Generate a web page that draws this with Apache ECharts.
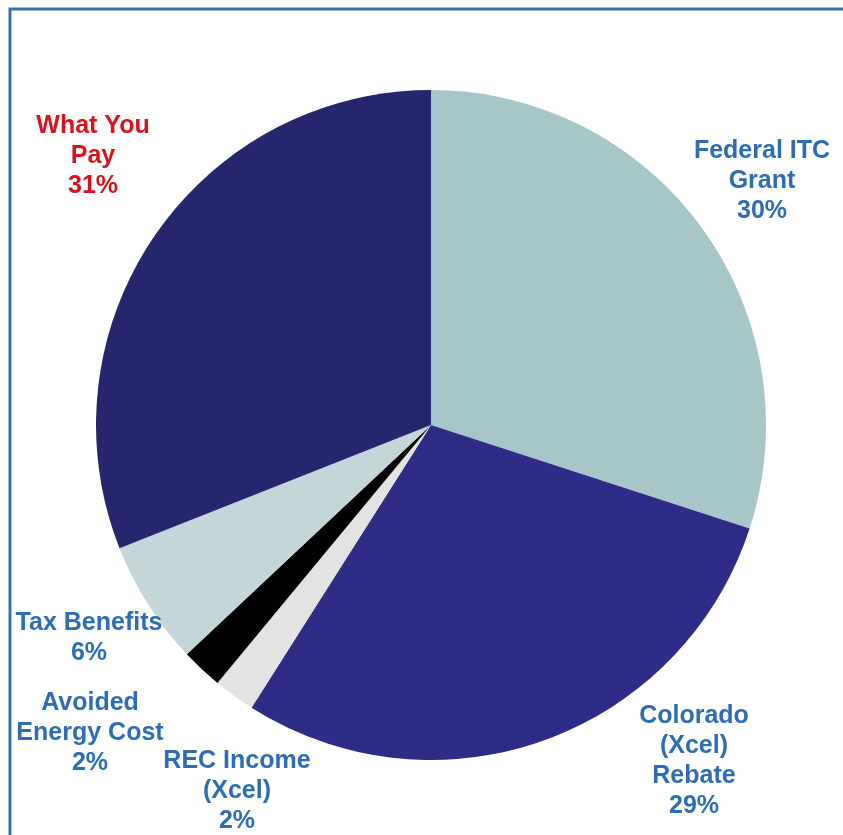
<!DOCTYPE html>
<html>
<head>
<meta charset="utf-8">
<script src="https://cdn.jsdelivr.net/npm/echarts@6/dist/echarts.min.js"></script>
<style>
html,body{margin:0;padding:0;background:#fff;}
#c{width:843px;height:835px;}
</style>
</head>
<body>
<div id="c"></div>
<script>
var categories = ['Federal ITC\nGrant', 'Colorado\n(Xcel)\nRebate', 'REC Income\n(Xcel)', 'Avoided\nEnergy Cost', 'Tax Benefits', 'What You\nPay'];
var values = [30, 29, 2, 2, 6, 31];
var colors = ['#A6C6C8', '#2E2C87', '#E3E3E3', '#000000', '#C4D6D8', '#26266F'];
var labelColors = ['#2E6DB4', '#2E6DB4', '#2E6DB4', '#2E6DB4', '#2E6DB4', '#D7141C'];
var labelPos = [[762, 136], [694, 701], [237, 746], [90, 688], [89, 608], [93, 111]];

var chart = echarts.init(document.getElementById('c'));
chart.setOption({
  animation: false,
  graphic: [{
    type: 'rect',
    shape: {x: 10, y: 9, width: 900, height: 900},
    style: {fill: 'none', stroke: '#2E75B6', lineWidth: 3},
    z: 10
  }],
  series: [{
    type: 'pie',
    center: [431, 425],
    radius: [0, 335],
    startAngle: 90,
    clockwise: true,
    data: categories.map(function (c, i) {
      return {
        name: c,
        value: values[i],
        itemStyle: {color: colors[i]},
        label: {color: labelColors[i]}
      };
    }),
    label: {
      show: true,
      formatter: function (p) { return p.name + '\n' + p.value + '%'; },
      fontFamily: 'Liberation Sans, Arial, sans-serif',
      fontWeight: 'bold',
      fontSize: 25,
      lineHeight: 30,
      align: 'center',
      overflow: 'none',
      width: 300
    },
    labelLine: {show: false},
    labelLayout: function (params) {
      var p = labelPos[params.dataIndex];
      return {x: p[0], y: p[1], align: 'center', verticalAlign: 'top'};
    },
    emphasis: {disabled: true}
  }]
});
</script>
</body>
</html>
